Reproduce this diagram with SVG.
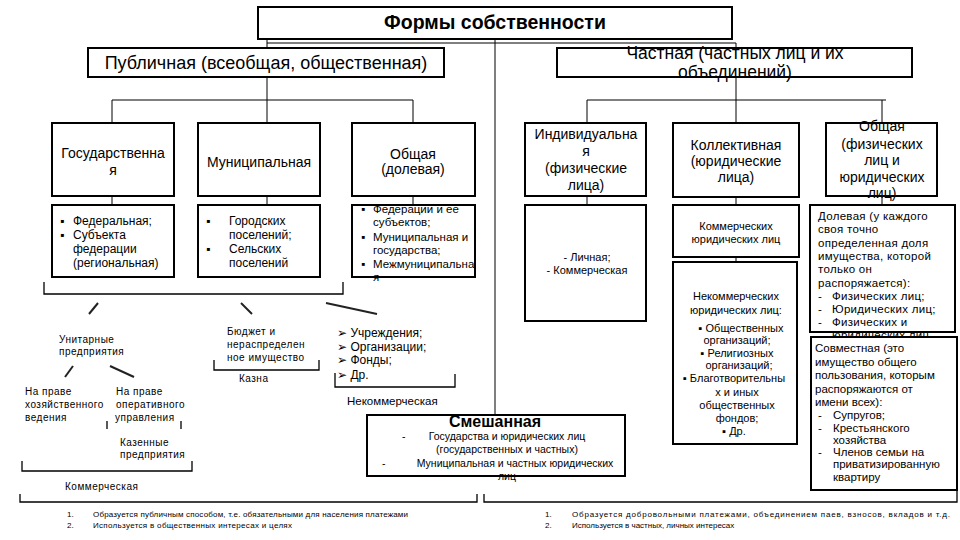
<svg xmlns="http://www.w3.org/2000/svg" width="960" height="540" viewBox="0 0 960 540">
<style>
text{font-family:"Liberation Sans",Arial,"DejaVu Sans",sans-serif;fill:#000}
.box{fill:#fff;stroke:#000;stroke-width:2}
.ln{stroke:#000;stroke-width:1;fill:none}
.br{stroke:#000;stroke-width:1.3;fill:none}
.sl{stroke:#222;stroke-width:2;fill:none}
.t14{font-size:14px}
.t12{font-size:12px}
.t11{font-size:11px}
.sm{font-size:10px;letter-spacing:0.5px}
.fn{font-size:8px}
.m{text-anchor:middle}
</style>
<rect width="960" height="540" fill="#fff"/>
<g id="connectors">
<line class="ln" x1="267" y1="39" x2="267" y2="123"/>
<line class="ln" x1="267" y1="43" x2="736" y2="43"/>
<line class="ln" x1="495" y1="39" x2="495" y2="415"/>
<line class="ln" x1="736" y1="43" x2="736" y2="123"/>
<line class="ln" x1="112" y1="100" x2="413" y2="100"/>
<line class="ln" x1="112" y1="100" x2="112" y2="123"/>
<line class="ln" x1="413" y1="100" x2="413" y2="123"/>
<line class="ln" x1="587" y1="100" x2="886" y2="100"/>
<line class="ln" x1="587" y1="100" x2="587" y2="123"/>
<line class="ln" x1="882" y1="100" x2="882" y2="123"/>
<line class="ln" x1="112" y1="196" x2="112" y2="205"/>
<line class="ln" x1="267" y1="196" x2="267" y2="205"/>
<line class="ln" x1="413" y1="196" x2="413" y2="205"/>
<line class="ln" x1="587" y1="196" x2="587" y2="205"/>
<line class="ln" x1="736" y1="197" x2="736" y2="205"/>
<line class="ln" x1="736" y1="257" x2="736" y2="262"/>
<line class="ln" x1="882" y1="196" x2="882" y2="205"/>
</g>
<g id="title"><rect class="box" x="258" y="7" width="474" height="32"/><text x="495" y="29" class="m" font-size="19.5" font-weight="bold">Формы собственности</text></g>
<g id="public"><rect class="box" x="88" y="48" width="356" height="29"/><text x="266" y="69" class="m" font-size="18">Публичная (всеобщая, общественная)</text></g>
<g id="private"><rect class="box" x="557" y="48" width="355" height="29"/><text x="735" y="59" class="m" font-size="17.5">Частная (частных лиц и их</text><text x="735" y="78" class="m" font-size="17.5">объединений)</text></g>
<g id="gos"><rect class="box" x="52" y="123" width="122" height="73"/><text x="113" y="158" class="m t14">Государственна</text><text x="113" y="175" class="m t14">я</text></g>
<g id="gos-sub"><rect class="box" x="52" y="205" width="122" height="72"/>
<text class="t12"><tspan x="60" y="225">▪</tspan><tspan x="73" y="225">Федеральная;</tspan><tspan x="60" y="239">▪</tspan><tspan x="73" y="239">Субъекта</tspan><tspan x="73" y="253">федерации</tspan><tspan x="73" y="267">(региональная)</tspan></text></g>
<g id="mun"><rect class="box" x="198" y="123" width="122" height="73"/><text x="259" y="167" class="m t14">Муниципальная</text></g>
<g id="mun-sub"><rect class="box" x="198" y="205" width="122" height="72"/>
<text class="t12"><tspan x="206" y="225">▪</tspan><tspan x="229" y="225">Городских</tspan><tspan x="229" y="239">поселений;</tspan><tspan x="206" y="253">▪</tspan><tspan x="229" y="253">Сельских</tspan><tspan x="229" y="267">поселений</tspan></text></g>
<g id="common-pub"><rect class="box" x="352" y="123" width="123" height="73"/><text x="413" y="159" class="m t14">Общая</text><text x="413" y="174" class="m t14">(долевая)</text></g>
<g id="common-pub-sub"><rect class="box" x="352" y="205" width="123" height="72"/>
<text font-size="11.5"><tspan x="361" y="213">▪</tspan><tspan x="373" y="213">Федерации и ее</tspan><tspan x="373" y="226">субъектов;</tspan><tspan x="361" y="241">▪</tspan><tspan x="373" y="241">Муниципальная и</tspan><tspan x="373" y="254">государства;</tspan><tspan x="361" y="268">▪</tspan><tspan x="373" y="268">Межмуниципальна</tspan><tspan x="373" y="281">я</tspan></text></g>
<g id="ind"><rect class="box" x="525" y="123" width="121" height="73"/><text class="m t14"><tspan x="586" y="139">Индивидуальна</tspan><tspan x="586" y="156">я</tspan><tspan x="586" y="173">(физические</tspan><tspan x="586" y="190">лица)</tspan></text></g>
<g id="ind-sub"><rect class="box" x="525" y="205" width="121" height="116"/><text class="m t11"><tspan x="587" y="261">- Личная;</tspan><tspan x="587" y="274">- Коммерческая</tspan></text></g>
<g id="coll"><rect class="box" x="673" y="123" width="126" height="74"/><text class="m t14"><tspan x="736" y="150">Коллективная</tspan><tspan x="736" y="166">(юридические</tspan><tspan x="736" y="182">лица)</tspan></text></g>
<g id="comm-jur"><rect class="box" x="673" y="205" width="126" height="52"/><text class="m t11"><tspan x="736" y="230">Коммерческих</tspan><tspan x="736" y="243">юридических лиц</tspan></text></g>
<g id="noncomm-jur"><rect class="box" x="673" y="262" width="124" height="182"/><text class="m t11"><tspan x="736" y="300">Некоммерческих</tspan><tspan x="736" y="314">юридических лиц:</tspan><tspan x="741" y="332">▪  Общественных</tspan><tspan x="737" y="344">организаций;</tspan><tspan x="737" y="357">▪  Религиозных</tspan><tspan x="739" y="369">организаций;</tspan><tspan x="734" y="382">▪  Благотворительны</tspan><tspan x="737" y="396">х и иных</tspan><tspan x="737" y="409">общественных</tspan><tspan x="737" y="422">фондов;</tspan><tspan x="734" y="435">▪  Др.</tspan></text></g>
<g id="common-priv"><rect class="box" x="826" y="123" width="111" height="73"/><text class="m t14"><tspan x="882" y="131">Общая</tspan><tspan x="882" y="149">(физических</tspan><tspan x="882" y="165">лиц и</tspan><tspan x="882" y="182">юридических</tspan><tspan x="882" y="198">лиц)</tspan></text></g>
<g id="shared"><rect class="box" x="810" y="205" width="145" height="127"/><text font-size="11.5" letter-spacing="0.3"><tspan x="818" y="220">Долевая (у каждого</tspan><tspan x="818" y="233">своя точно</tspan><tspan x="818" y="247">определенная доля</tspan><tspan x="818" y="260">имущества, которой</tspan><tspan x="818" y="273">только он</tspan><tspan x="818" y="287">распоряжается):</tspan><tspan x="818" y="300">-</tspan><tspan x="832" y="300">Физических лиц;</tspan><tspan x="818" y="313">-</tspan><tspan x="832" y="313">Юридических лиц;</tspan><tspan x="818" y="326">-</tspan><tspan x="832" y="326">Физических и</tspan><tspan x="832" y="339">юридических лиц</tspan></text></g>
<g id="joint"><rect class="box" x="811" y="337" width="146" height="153"/><text font-size="11.5"><tspan x="815" y="352">Совместная (это</tspan><tspan x="815" y="366">имущество общего</tspan><tspan x="815" y="379">пользования, которым</tspan><tspan x="815" y="393">распоряжаются от</tspan><tspan x="815" y="406">имени всех):</tspan><tspan x="818" y="419">-</tspan><tspan x="833" y="419">Супругов;</tspan><tspan x="818" y="432">-</tspan><tspan x="833" y="432">Крестьянского</tspan><tspan x="833" y="444">хозяйства</tspan><tspan x="818" y="456">-</tspan><tspan x="833" y="456">Членов семьи на</tspan><tspan x="833" y="468">приватизированную</tspan><tspan x="833" y="481">квартиру</tspan></text></g>
<g id="mixed"><rect class="box" x="367" y="415" width="258" height="61"/><text x="495" y="427" class="m" font-size="16" font-weight="bold">Смешанная</text><text font-size="10.5"><tspan x="402" y="440">-</tspan><tspan x="382" y="467">-</tspan></text><text class="m" font-size="10.5"><tspan x="507" y="440">Государства и юридических лиц</tspan><tspan x="507" y="453">(государственных и частных)</tspan><tspan x="515" y="467">Муниципальная и частных юридических</tspan><tspan x="507" y="480">лиц</tspan></text></g>
<g id="annotations">
<path class="br" d="M44 282V294H343V282"/>
<line class="sl" x1="89" y1="314" x2="98" y2="303"/>
<line class="sl" x1="241" y1="303" x2="252" y2="314"/>
<line class="sl" x1="326" y1="303" x2="377" y2="314"/>
<text class="sm"><tspan x="59" y="343">Унитарные</tspan><tspan x="59" y="355">предприятия</tspan></text>
<line class="sl" x1="65" y1="377" x2="73" y2="366"/>
<line class="sl" x1="110" y1="366" x2="134" y2="377"/>
<text class="sm"><tspan x="25" y="395">На праве</tspan><tspan x="25" y="408">хозяйственного</tspan><tspan x="25" y="421">ведения</tspan></text>
<text class="sm"><tspan x="116" y="395">На праве</tspan><tspan x="116" y="408">оперативного</tspan><tspan x="115" y="421">управления</tspan></text>
<path class="br" d="M107 421V429M181 421V429"/>
<text class="sm"><tspan x="120" y="446">Казенные</tspan><tspan x="120" y="458">предприятия</tspan></text>
<path class="br" d="M22 461V471H192V461"/>
<text class="sm" x="65" y="490">Коммерческая</text>
<text class="sm"><tspan x="227" y="335">Бюджет и</tspan><tspan x="227" y="348">нераспределен</tspan><tspan x="227" y="361">ное имущество</tspan></text>
<path class="br" d="M214 360V370H319V360"/>
<text class="sm" font-size="11" x="239" y="382">Казна</text>
<text class="t12"><tspan x="337" y="337">➢ Учреждения;</tspan><tspan x="337" y="351">➢ Организации;</tspan><tspan x="337" y="364">➢ Фонды;</tspan><tspan x="337" y="379">➢ Др.</tspan></text>
<path class="br" d="M335 373V387H455V374"/>
<text font-size="11.5" x="347" y="405">Некоммерческая</text>
<path class="br" d="M20 494V502H477V494"/>
<path class="br" d="M484 494V502H957V490"/>
<text class="fn"><tspan x="67" y="517">1.</tspan><tspan x="67" y="528">2.</tspan></text>
<text class="fn" x="93" y="517" textLength="315" lengthAdjust="spacing">Образуется публичным способом, т.е. обязательными для населения платежами</text>
<text class="fn" x="93" y="528" textLength="199" lengthAdjust="spacing">Используется в общественных интересах и целях</text>
<text class="fn" font-size="8.5"><tspan x="545" y="517">1.</tspan><tspan x="545" y="528">2.</tspan></text>
<text class="fn" font-size="8.5" x="572" y="517" textLength="378" lengthAdjust="spacing">Образуется добровольными платежами, объединением паев, взносов, вкладов и т.д.</text>
<text class="fn" font-size="8.5" x="572" y="528">Используется в частных, личных интересах</text>
</g>
</svg>
